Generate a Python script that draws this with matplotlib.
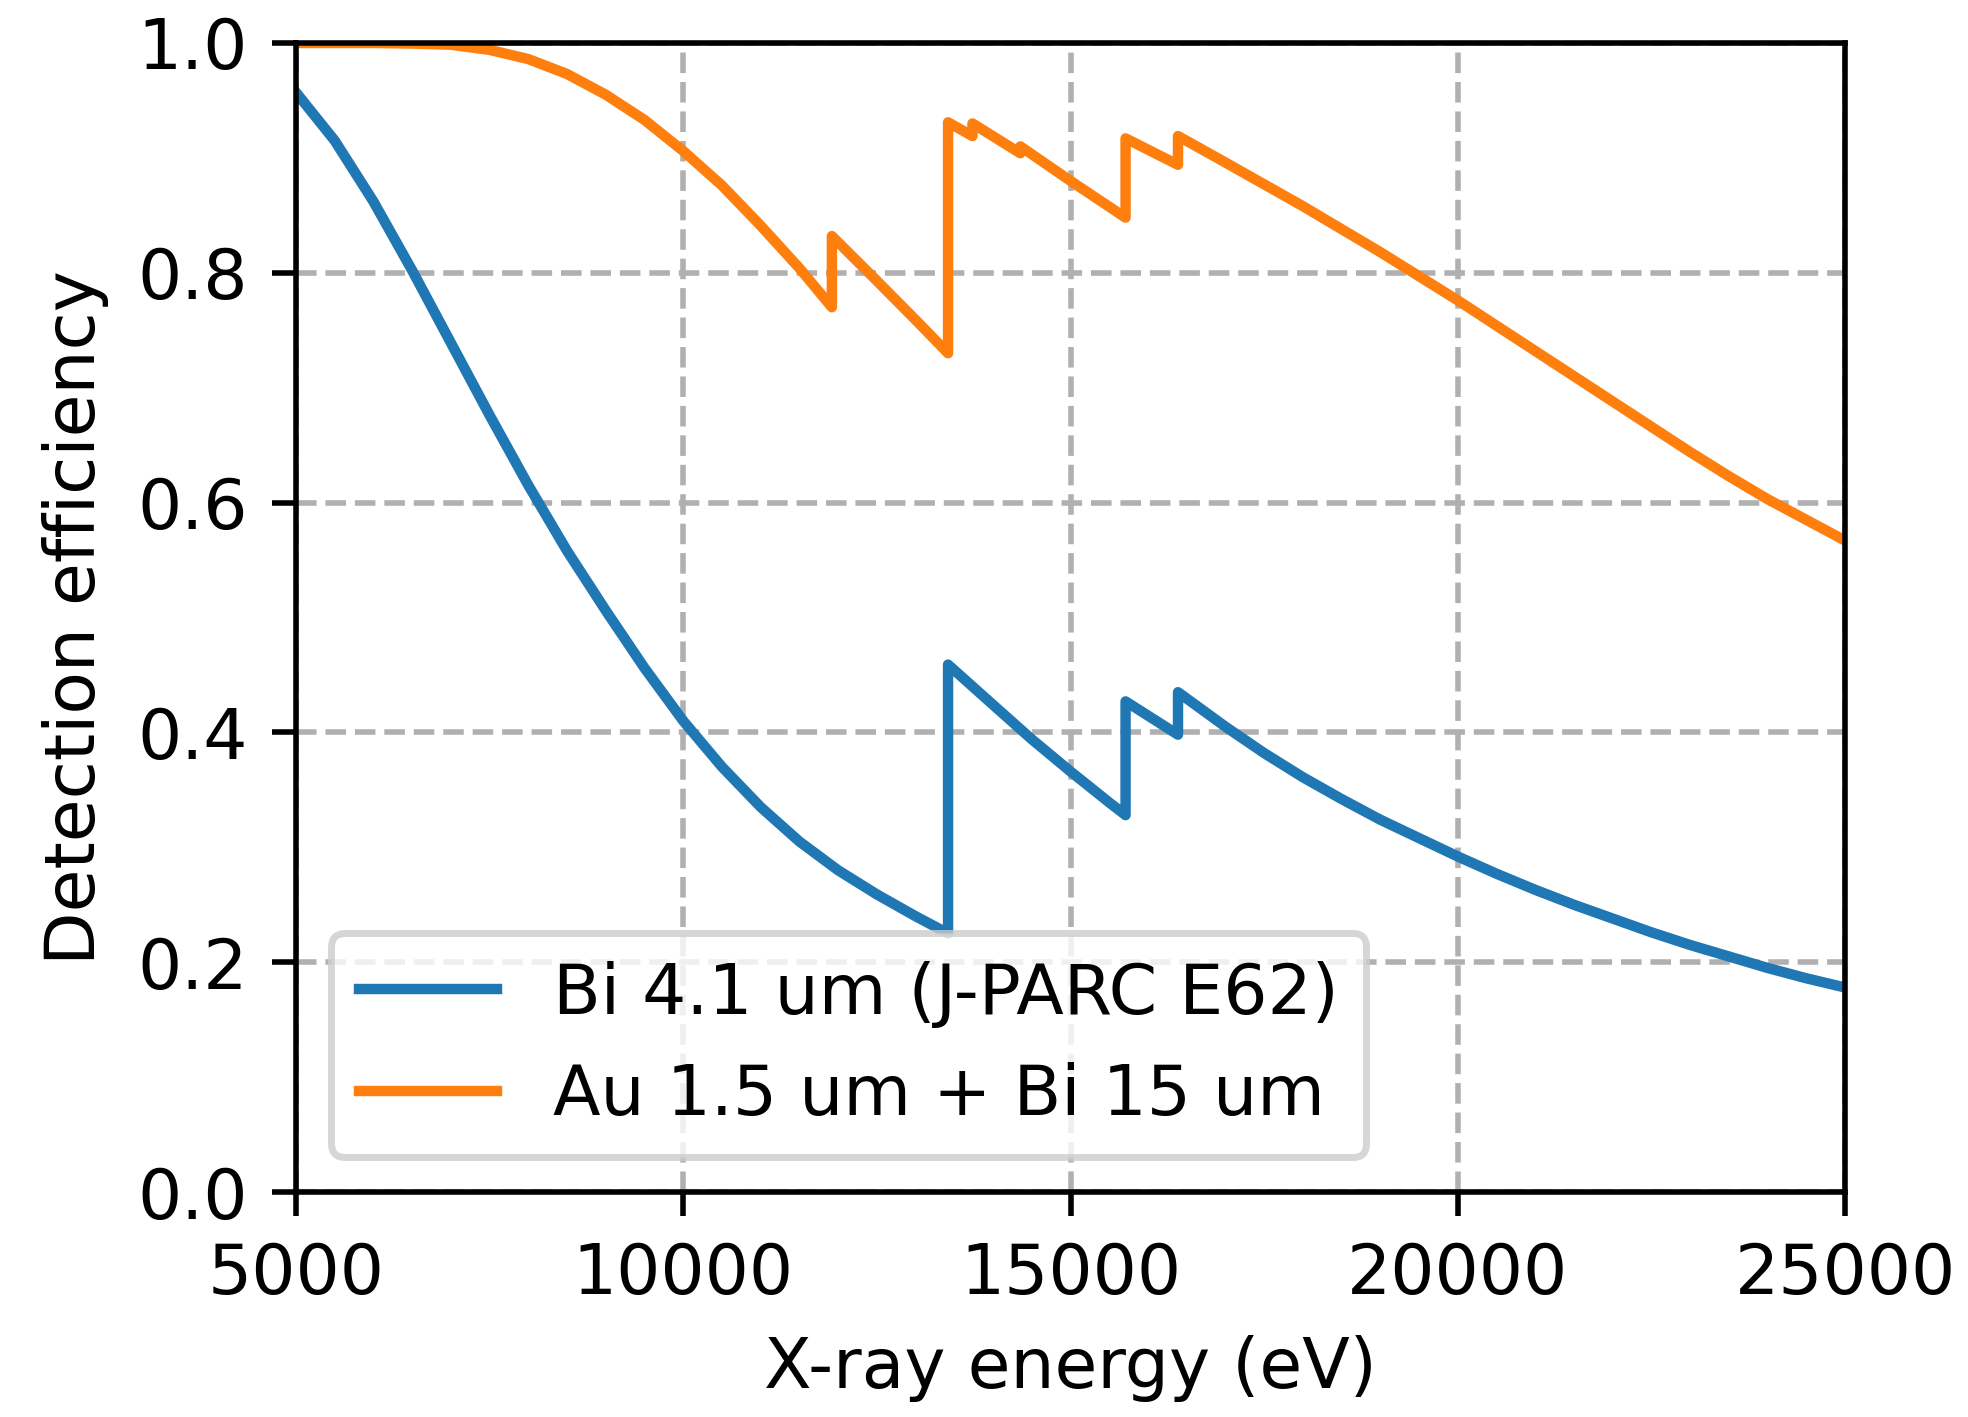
#!/usr/bin/env python3
"""Detection efficiency vs X-ray energy for two absorber configurations."""

import matplotlib
matplotlib.use("Agg")
import matplotlib.pyplot as plt
import numpy as np

# ---------------------------------------------------------------------------
# Data; repeated energies mark absorption edges
# ---------------------------------------------------------------------------

bi_energy = [5000, 5500, 6000, 6500, 7000, 7500, 8000, 8500, 9000, 9500,
             10000, 10500, 11000, 11500, 12000, 12500, 13000, 13419,
             13419, 14000, 14500, 15000, 15500, 15711,
             15711, 16388,
             16388, 17000, 17500, 18000, 18500, 19000, 19500, 20000, 20500,
             21000, 21500, 22000, 22500, 23000, 23500, 24000, 24500, 25000]
bi_eff = [0.957, 0.915, 0.862, 0.802, 0.739, 0.676, 0.615, 0.558, 0.506, 0.456,
          0.410, 0.370, 0.335, 0.305, 0.280, 0.259, 0.240, 0.225,
          0.459, 0.424, 0.394, 0.366, 0.339, 0.328,
          0.427, 0.398,
          0.435, 0.405, 0.382, 0.361, 0.342, 0.324, 0.308, 0.292, 0.277,
          0.263, 0.250, 0.238, 0.226, 0.215, 0.205, 0.195, 0.186, 0.178]

aubi_energy = [5000, 6000, 6500, 7000, 7500, 8000, 8500, 9000, 9500,
               10000, 10500, 11000, 11500, 11919,
               11919, 12500, 13000, 13419,
               13419, 13734,
               13734, 14353,
               14353, 15000, 15711,
               15711, 16388,
               16388, 17000, 17500, 18000, 18500, 19000, 19500, 20000, 20500,
               21000, 21500, 22000, 22500, 23000, 23500, 24000, 24500, 25000]
aubi_eff = [1.000, 1.000, 0.9995, 0.9985, 0.994, 0.986, 0.973, 0.955, 0.933,
            0.906, 0.876, 0.841, 0.804, 0.770,
            0.832, 0.793, 0.759, 0.730,
            0.931, 0.919,
            0.930, 0.904,
            0.910, 0.880, 0.848,
            0.917, 0.894,
            0.919, 0.896, 0.877, 0.858, 0.838, 0.818, 0.797, 0.776, 0.754,
            0.732, 0.710, 0.688, 0.666, 0.644, 0.623, 0.603, 0.585, 0.567]

labels = ["Bi 4.1 um (J-PARC E62)", "Au 1.5 um + Bi 15 um"]


def main() -> None:
    fig = plt.figure(figsize=(1968 / 500, 1417 / 500), dpi=500)
    ax = fig.add_axes([296 / 1968, 1 - 1192 / 1417,
                       (1845 - 296) / 1968, (1192 - 43) / 1417])

    ax.plot(bi_energy, bi_eff, label=labels[0])
    ax.plot(aubi_energy, aubi_eff, label=labels[1])

    ax.set_xlim(5000, 25000)
    ax.set_ylim(0, 1)
    ax.set_xlabel("X-ray energy (eV)")
    ax.set_ylabel("Detection efficiency")
    ax.grid(linestyle="--")
    ax.legend(loc="lower left")

    fig.savefig("out.png", dpi=500)
    plt.close(fig)


if __name__ == "__main__":
    main()
